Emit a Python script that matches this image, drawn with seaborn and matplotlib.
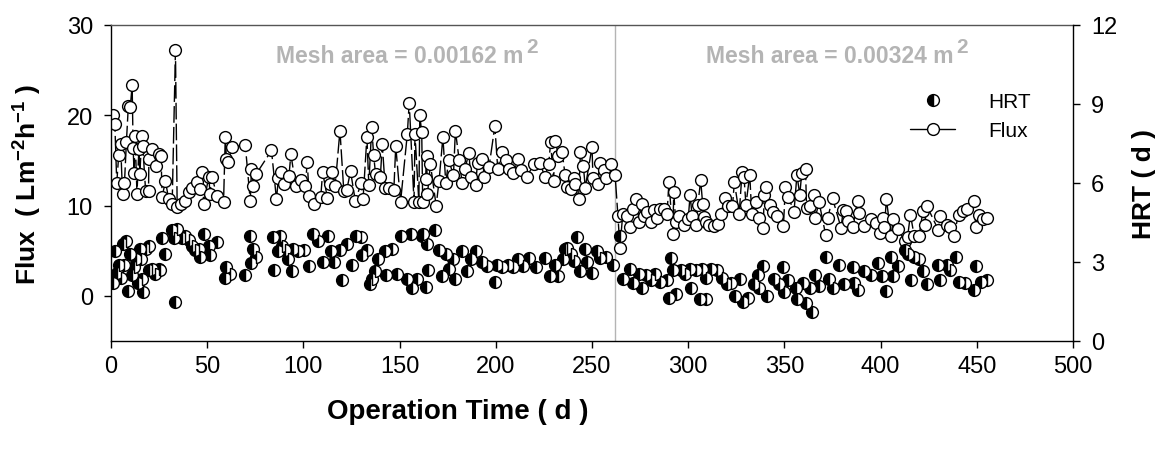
import matplotlib
matplotlib.use("Agg")
import matplotlib.pyplot as plt
import matplotlib.transforms as mtransforms
import seaborn as sns
import pandas as pd
from matplotlib.lines import Line2D

sns.set_theme(style="white")
plt.rcParams["font.family"] = ["Liberation Sans", "DejaVu Sans"]
plt.rcParams["mathtext.fontset"] = "custom"
plt.rcParams["mathtext.rm"] = "Liberation Sans"
plt.rcParams["mathtext.bf"] = "Liberation Sans:bold"
plt.rcParams["mathtext.it"] = "Liberation Sans:italic"
plt.rcParams["text.color"] = "black"
plt.rcParams["axes.labelcolor"] = "black"

# Permeate flux (L m-2 h-1) against operation time (d)
flux_days = [
    1, 2, 3, 4, 5, 6, 7, 8, 9, 10, 11, 11.5, 12, 12.5, 13.5, 14.5,
    15, 16, 16.5, 18, 19.5, 19.7, 21.4, 23.2, 25, 26, 26.6, 28.3, 30, 31.8,
    33.5, 34.4, 36.5, 38.7, 40.4, 42.1, 44.7, 46.5, 47.3, 48.2, 50.8, 51.5,
    52.5, 55, 58.5, 59.4, 60, 61, 62.8, 69.8, 72.4, 73, 74, 75.5, 83.4, 86,
    87, 88.5, 90, 92.5, 93.5, 96, 98.5, 101, 102, 103, 105.5, 109, 110,
    112.5, 114, 115, 116.5, 119, 121, 122.5, 124.5, 127, 130, 131, 133, 134,
    135.5, 136.5, 137.5, 140, 141, 142.5, 144.5, 147, 148, 150.5, 154, 155,
    157.5, 158, 160, 160.5, 161.5, 162, 163.5, 164, 164.5, 166, 169, 170.5,
    172.5, 174, 175.5, 178, 179, 181, 182.5, 184, 186, 187, 189.5, 190.5,
    193, 194, 196.5, 199.5, 201, 203, 205.5, 207, 209, 211.5, 213, 216, 220,
    223, 225.5, 227.5, 228.5, 230, 231, 232.5, 234.5, 236, 237, 239, 240.5,
    241, 243, 244, 245.5, 246.5, 250, 250.5, 253, 254, 256, 257.5, 260, 262,
    263.5, 264.5, 266, 268, 270, 271.5, 273, 274.5, 276, 277, 278.5, 280.5,
    282, 284, 285.5, 287.5, 289, 290, 292, 292.5, 293.5, 295, 298, 300, 301,
    302, 304, 305, 306.5, 307.5, 308, 309, 311, 313.5, 315.5, 317, 319, 320.5,
    323, 324, 326.5, 328, 329, 330, 332, 333, 335, 337, 339, 339.5, 340.5,
    342.5, 344, 346, 349.5, 350.5, 352, 355, 356.5, 358, 359, 361, 361.5,
    363.5, 365.5, 366, 368, 371.5, 372.5, 375, 379.5, 380.5, 382, 383, 385.5,
    388, 389, 391.5, 395, 397.5, 399.5, 401, 402, 403, 405.5, 406.5, 409,
    412.5, 414, 415.5, 417.5, 420, 422, 423, 424, 430, 431, 434.5, 436, 438,
    440.5, 443, 445, 448.5, 449.5, 451, 453, 455.5,
]
flux_values = [
    20.0, 19.0, 12.5, 15.6, 16.8, 11.3, 12.5, 17.0, 21.0, 20.9, 23.3, 16.4, 13.6, 17.7, 11.3, 16.3,
    13.5, 17.7, 16.6, 11.6, 11.6, 15.2, 16.3, 14.4, 15.7, 15.5, 11.0, 12.7, 10.7, 10.2,
    27.2, 9.8, 10.2, 10.5, 11.5, 12.0, 12.6, 11.8, 13.7, 10.2, 13.2, 11.3,
    13.2, 11.1, 10.4, 17.6, 15.2, 14.8, 16.5, 16.7, 10.5, 14.0, 12.2, 13.5, 16.1, 10.7,
    13.0, 13.7, 12.4, 13.3, 15.7, 12.2, 12.8, 12.2, 14.8, 11.1, 10.2, 10.9, 13.7,
    10.8, 12.4, 13.7, 12.2, 18.3, 11.6, 11.7, 13.8, 10.5, 12.5, 10.7, 17.6, 12.3,
    18.7, 15.6, 13.5, 13.2, 16.8, 12.0, 12.0, 11.7, 16.6, 10.4, 17.9, 21.4,
    10.4, 17.9, 10.4, 20.0, 18.1, 10.4, 12.9, 15.5, 11.3, 14.6, 10.0, 12.7,
    17.6, 12.5, 15.0, 13.4, 18.3, 15.0, 12.5, 14.1, 15.8, 13.2, 12.3, 14.7,
    15.2, 13.2, 14.3, 18.8, 14.1, 15.9, 15.0, 14.1, 13.6, 15.2, 13.9, 13.2, 14.6,
    14.7, 13.2, 14.6, 17.0, 12.7, 17.2, 15.5, 15.9, 13.4, 12.1, 11.8, 13.1,
    12.4, 10.7, 15.9, 14.4, 12.0, 16.5, 13.1, 12.4, 14.7, 13.9, 13.1, 14.6, 13.4,
    8.8, 5.3, 9.1, 8.9, 7.6, 9.6, 10.7, 8.2, 10.2, 8.9, 9.3, 8.2,
    9.5, 8.6, 9.6, 9.6, 9.1, 12.6, 6.9, 11.5, 8.2, 8.9, 7.8, 8.5, 11.2,
    8.9, 7.8, 10.1, 12.8, 10.2, 8.7, 8.2, 7.8, 7.7, 8.0, 9.1, 10.8, 9.9,
    9.9, 12.6, 9.1, 13.7, 13.2, 10.1, 13.4, 9.1, 10.4, 8.6, 7.5, 11.2, 12.1,
    10.1, 9.3, 8.8, 7.7, 12.1, 11.0, 9.3, 13.4, 11.2, 13.6, 14.1, 9.7,
    9.9, 11.2, 8.6, 10.4, 6.7, 8.6, 10.8, 7.5, 9.5, 9.4, 8.3, 7.6,
    10.5, 9.2, 7.7, 8.5, 8.1, 7.0, 8.6, 7.6, 10.7, 6.6, 8.5, 7.4,
    6.1, 6.5, 9.0, 6.6, 6.6, 9.4, 7.9, 10.0, 7.3, 8.9, 7.9, 7.6, 6.6,
    9.0, 9.4, 9.6, 10.5, 7.6, 9.0, 8.5, 8.6,
]

# Hydraulic retention time (d) against operation time (d)
hrt_days = [
    1, 2, 3, 4, 5, 6, 7, 8, 9, 10, 11, 12, 13, 14,
    15, 15.5, 16, 16.5, 18, 19.5, 20, 21.4, 23, 25, 25.5, 26.6, 28.3, 31.8,
    32.7, 33.5, 34.4, 37, 38.7, 40.4, 42, 43.8, 45.6, 46.5, 48.2, 50.8, 51.7,
    55, 59.4, 60, 62, 69.8, 72.4, 73, 74, 75.5, 84, 84.5, 87,
    88, 89, 90.5, 92, 94, 94.5, 97, 100.5, 103, 105, 107.5, 110, 113, 114.5,
    116, 119, 120, 122.5, 125, 127.5, 130, 130.5, 133, 134.5, 135.5, 137, 139,
    142.5, 143, 146, 148.5, 150.5, 154, 156, 156.5, 159, 161.5,
    162, 163.5, 164, 165, 168.5, 170.5, 172, 174, 175.5, 178, 179, 182.5, 185,
    187, 189.5, 193, 195.5, 199.5, 200.5, 203, 206.5, 209, 211.5, 214, 217,
    221, 225.5, 228, 231, 232.5, 235,
    236, 237, 239, 240.5, 242, 244, 246.5, 247.5, 250, 252.5, 254, 257.5, 261,
    264.5, 266, 270, 271.5, 274.5, 276, 278, 280.5, 283, 285.5, 289, 290, 291,
    292, 293.5, 296, 298.5, 301, 301.5, 304, 306,
    307, 309, 309.5, 312, 315, 317.5, 320, 322.5, 324.5, 327, 328.5, 331, 334,
    336.5, 337, 339, 341, 344.5, 347, 349.5, 350, 352, 356, 356.5, 359.5, 361,
    363.5, 364.5, 366, 368, 371.5, 373, 375, 378.5,
    381, 385.5, 386, 388, 391.5, 395, 398.5, 400.5, 403, 405.5, 406.5, 409,
    412.5, 414, 416, 417.5, 420, 422, 424, 430, 431, 434.5, 436, 439, 441, 444,
    448.5, 449.5, 452, 455.5,
]
hrt_values = [
    2.2, 3.4, 2.6, 2.9, 2.4, 3.7, 2.9, 3.8, 1.9, 3.3, 2.5, 2.8, 3.1, 2.2,
    3.5, 3.1, 2.35, 1.85, 3.5, 3.6, 2.7, 2.75, 2.55, 2.75, 2.7, 3.9, 3.3, 4.2,
    3.9, 1.5, 4.25, 3.9, 4.0, 3.85, 3.6, 3.45, 3.5, 3.2, 4.05, 3.6, 3.25,
    3.75, 2.4, 2.8, 2.55, 2.5, 4.0, 2.95, 3.5, 3.2, 3.95, 2.7, 3.4,
    4.0, 3.6, 3.45, 3.1, 2.65, 3.5, 3.4, 3.45, 2.85, 4.05, 3.8, 3.0, 4.0, 3.4,
    3.0, 3.45, 2.3, 3.7, 2.9, 4.0, 3.95, 3.25, 3.45, 2.15, 2.35, 2.65, 3.1,
    3.4, 2.5, 3.5, 2.55, 4.0, 2.35, 4.05, 2.0, 2.35, 4.0,
    4.05, 2.05, 3.7, 2.7, 4.2, 3.45, 2.45, 3.3, 2.75, 3.1, 2.35, 3.4, 2.65,
    3.1, 3.4, 3.0, 2.85, 2.25, 2.9, 2.8, 2.9, 2.8, 3.1, 2.85, 3.15,
    2.8, 3.15, 2.45, 2.9, 2.45, 3.1,
    3.5, 3.55, 3.3, 3.05, 3.95, 2.65, 3.5, 3.0, 2.6, 3.4, 3.15, 3.2, 2.9,
    4.0, 2.35, 2.75, 2.2, 2.55, 2.0, 2.5, 2.3, 2.55, 2.25, 2.3, 1.65, 3.15,
    2.7, 1.8, 2.7, 2.55, 2.75, 2.0, 2.7, 1.6,
    2.75, 2.4, 1.6, 2.75, 2.7, 2.4, 2.15, 2.2, 1.7, 2.35, 1.5, 1.65, 2.15,
    2.5, 2.0, 2.85, 1.7, 2.35, 2.15, 2.8, 1.85, 2.3, 2.0, 1.6, 2.2, 1.45,
    2.0, 1.1, 2.5, 2.1, 3.2, 2.35, 2.0, 2.9,
    2.15, 2.8, 2.2, 1.95, 2.65, 2.5, 2.95, 2.45, 1.9, 3.2, 2.45, 2.85,
    3.45, 3.3, 2.3, 3.2, 3.1, 2.65, 2.15, 2.9, 2.3, 2.9, 2.7, 3.2, 2.25, 2.2,
    1.95, 2.85, 2.25, 2.3,
]

x_ticks = [0, 50, 100, 150, 200, 250, 300, 350, 400, 450, 500]
flux_ticks = [0, 10, 20, 30]
hrt_ticks = [0, 3, 6, 9, 12]

mesh_change_day = 262
mesh_labels = ["Mesh area = 0.00162 m", "Mesh area = 0.00324 m"]
mesh_label_end_days = [214.5, 438]

flux_df = pd.DataFrame({"day": flux_days, "flux": flux_values})
hrt_df = pd.DataFrame({"day": hrt_days, "hrt": hrt_values})

W, H = 1163, 460
fig = plt.figure(figsize=(W / 100, H / 100), dpi=100)
ax = fig.add_axes([111 / W, 1 - 342 / H, (1073 - 111) / W, (342 - 26) / H])

ax.axvline(mesh_change_day, color="#b4b4b4", lw=1, zorder=0)

sns.lineplot(data=flux_df, x="day", y="flux", ax=ax, estimator=None,
             color="black", lw=1, linestyle=(0, (12, 3)),
             marker="o", markersize=8.5, markerfacecolor="white",
             markeredgecolor="black", markeredgewidth=1)

ax2 = ax.twinx()
sns.lineplot(data=hrt_df, x="day", y="hrt", ax=ax2, estimator=None,
             color="black", linestyle="none", marker="o", markersize=8.5,
             fillstyle="left", markerfacecolor="black",
             markerfacecoloralt="white", markeredgecolor="black",
             markeredgewidth=1)

ax.set_xlim(0, 500)
ax.set_ylim(-5, 30)
ax2.set_ylim(0, 12)
ax.set_xticks(x_ticks)
ax.set_yticks(flux_ticks)
ax2.set_yticks(hrt_ticks)

for a in (ax, ax2):
    for s in a.spines.values():
        s.set_color("black")
        s.set_linewidth(1)
ax.spines["right"].set_visible(False)
ax.spines["top"].set_color("#555555")
for side in ("left", "bottom", "top"):
    ax2.spines[side].set_visible(False)

ax.tick_params(axis="x", bottom=True, direction="out", length=5, width=1,
               labelsize=17, pad=5, colors="black")
ax.tick_params(axis="y", left=True, direction="out", length=5, width=1,
               labelsize=17, pad=8, colors="black")
ax2.tick_params(axis="y", right=True, direction="out", length=5, width=1,
                labelsize=17, pad=8, colors="black")

ax.set_xlabel("Operation Time ( d )", fontsize=20, fontweight="bold",
              color="black")
ax.xaxis.set_label_coords(0.36, -0.18)
ax.set_ylabel("Flux  ( Lm$^{\\mathbf{-2}}$h$^{\\mathbf{-1}}$ )",
              fontsize=19, fontweight="bold", color="black")
ax.yaxis.set_label_coords(-0.07, 0.5)
ax2.set_ylabel("HRT ( d )", fontsize=19, fontweight="bold", color="black")
ax2.yaxis.set_label_coords(1.0615, 0.5)

sup_offset = mtransforms.offset_copy(ax.transData, fig=fig, x=3, y=10,
                                     units="dots")
for d, txt in zip(mesh_label_end_days, mesh_labels):
    ax.text(d, 25.9, txt, ha="right", va="baseline", fontsize=16.5,
            fontweight="bold", color="#b4b4b4")
    ax.text(d, 25.9, "2", ha="left", va="baseline", fontsize=15,
            fontweight="bold", color="#b4b4b4", transform=sup_offset)

handles = [
    Line2D([], [], linestyle="none", marker="o", markersize=8.5,
           fillstyle="left", markerfacecolor="black",
           markerfacecoloralt="white", markeredgecolor="black",
           markeredgewidth=1),
    Line2D([], [], color="black", lw=1, marker="o", markersize=8.5,
           markerfacecolor="white", markeredgecolor="black",
           markeredgewidth=1),
]
leg = ax2.legend(handles, ["HRT", "Flux"], loc="center left",
                 bbox_to_anchor=(910 / W, 1 - 117 / H),
                 bbox_transform=fig.transFigure, frameon=False, fontsize=15,
                 handlelength=2.16, handletextpad=1.59, labelspacing=0.5,
                 borderpad=0, borderaxespad=0)
for t in leg.get_texts():
    t.set_color("black")

fig.savefig("out.png", dpi=100)
